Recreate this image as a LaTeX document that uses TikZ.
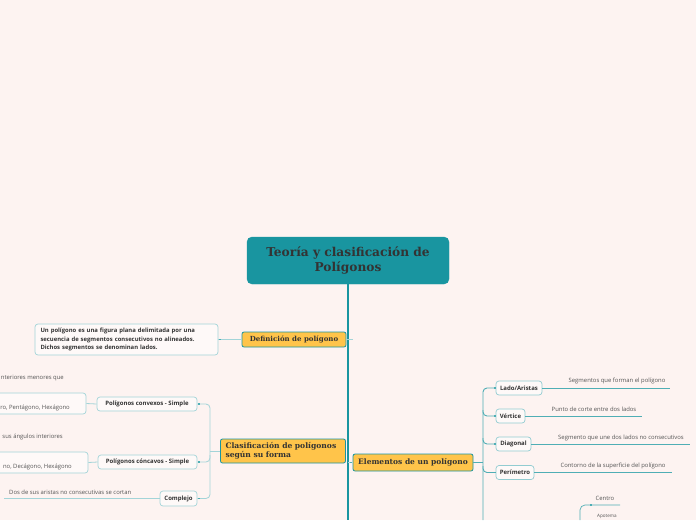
\documentclass[tikz,border=0pt]{standalone}
\usepackage{fontspec}
\setmainfont{Open Sans}
\newfontfamily\slab{DejaVu Serif}
\definecolor{bg}{HTML}{FDF3F1}
\definecolor{tealA}{HTML}{1995A0}
\definecolor{ylw}{HTML}{FFC44A}
\definecolor{lteal}{HTML}{A3D4D8}
\definecolor{mteal}{HTML}{4FAEB5}
\definecolor{txt}{HTML}{333333}
\definecolor{gtxt}{HTML}{555555}
\begin{document}
\begin{tikzpicture}[x=1pt,y=-1pt,
  mainbox/.style={draw=tealA, fill=tealA, rounded corners=5pt, minimum width=202pt, minimum height=47pt, align=center, font=\slab\bfseries\fontsize{12.2}{15}\selectfont, text=txt, inner sep=0pt},
  topic/.style={draw=tealA, fill=ylw, rounded corners=2pt, line width=0.8pt, font=\slab\bfseries\fontsize{7.2}{9}\selectfont, text=txt, inner sep=0pt, align=left},
  sub/.style={draw=lteal, fill=bg!50!white, rounded corners=3pt, line width=0.7pt, font=\bfseries\fontsize{6}{7}\selectfont, text=txt, inner sep=0pt},
  subr/.style={sub, draw=lteal!80!mteal},
  lbl/.style={font=\fontsize{5.9}{7}\selectfont, text=gtxt, inner sep=0pt},
  lline/.style={draw=lteal, line width=0.8pt},
  mline/.style={draw=mteal, line width=0.9pt},
  dot/.style={fill=mteal, minimum size=1.6pt, inner sep=0pt, draw=none, rectangle}
]
\fill[bg] (0,0) rectangle (696,520);
\useasboundingbox (0,0) rectangle (696,520);

% main
\node[mainbox] (main) at (348,260.5) {Teoría y clasificación de\\Polígonos};
\coordinate (trunkend) at (348,520);
\draw[tealA, line width=2pt] (main.south) -- (trunkend);

% definicion
\node[topic, minimum width=104pt, minimum height=15pt, align=center, font=\slab\bfseries\fontsize{7}{9}\selectfont] (def) at (294,339.5) {Definición de polígono};
\node[sub, text width=172pt, inner xsep=5.5pt, minimum height=31pt, align=left, font=\bfseries\fontsize{5.9}{8.6}\selectfont] (defbox) at (126.5,339.5)
 {Un polígono es una figura plana delimitada por una\\secuencia de segmentos consecutivos no alineados.\\Dichos segmentos se denominan lados.};
\draw[lline] (defbox.east) -- (def.west);
\node[dot] (d1) at (220,339.5) {};
\coordinate (defstub) at (353,339.5);
\draw[lline] (def.east) -- (defstub);

% clasificacion
\node[topic, minimum width=125pt, minimum height=24pt, text width=115pt, inner xsep=5pt, font=\slab\bfseries\fontsize{7.6}{9.5}\selectfont] (clas) at (283,451) {Clasificación de polígonos\\según su forma};
\node[sub, minimum width=100pt, minimum height=14pt] (conv) at (147,404) {Polígonos convexos - Simple};
\node[sub, minimum width=99pt, minimum height=14pt] (conc) at (147.5,462) {Polígonos cóncavos - Simple};
\node[sub, minimum width=37pt, minimum height=15pt] (comp) at (178.5,498.5) {Complejo};
\coordinate (cbr) at (210,451);
\draw[lline] (clas.west) -- (cbr);
\draw[lline, rounded corners=4pt] (conv.east) -- (210,404) -- (210,498.5) -- (comp.east);
\draw[lline, rounded corners=4pt] (conc.east) -- (210,462) -- (210,455);
\node[dot] at (199,404) {};
\node[dot] at (199,462) {};
\node[dot] at (199,498.5) {};

\node[sub, minimum width=106pt, minimum height=21pt] (convbox) at (33,403.5) {};
\node[sub, minimum width=108pt, minimum height=21pt] (concbox) at (34,462.5) {};
\draw[lline] (convbox.east) -- (conv.west);
\draw[lline] (concbox.east) -- (conc.west);
\node[lbl, anchor=east] (cvt1) at (64,378) {nteriores menores que};
\node[lbl, anchor=east] (cvt2) at (70,408) {ro, Pentágono, Hexágono};
\node[lbl, anchor=east] (cct1) at (63,437) {sus ángulos interiores};
\node[lbl, anchor=east] (cct2) at (72,467) {no, Decágono, Hexágono};
\node[lbl, anchor=west] (comptxt) at (9,492) {Dos de sus aristas no consecutivas se cortan};
\coordinate (compend) at (4,498.5);
\draw[lline] (compend) -- (comp.west);

% elementos
\node[topic, minimum width=120pt, minimum height=17pt, align=center, font=\slab\bfseries\fontsize{7.5}{9}\selectfont] (elem) at (413,462.5) {Elementos de un polígono};
\draw[lline] (348,462.5) -- (elem.west);
\node[dot] at (351,462.5) {};
\draw[mline] (elem.east) -- (483,462.5);

\node[subr, minimum width=46pt, minimum height=14pt] (lado) at (519,388) {Lado/Aristas};
\node[subr, minimum width=29pt, minimum height=14pt] (vert) at (510.5,416) {Vértice};
\node[subr, minimum width=35pt, minimum height=14pt] (diag) at (513.5,444) {Diagonal};
\node[subr, minimum width=38pt, minimum height=14pt] (perim) at (515,472.5) {Perímetro};
\coordinate (ebot) at (483,520);
\draw[mline, rounded corners=4pt] (lado.west) -- (483,388) -- (ebot);
\draw[mline, rounded corners=4pt] (vert.west) -- (483,416) -- (483,410);
\draw[mline, rounded corners=4pt] (diag.west) -- (483,444) -- (483,438);
\draw[mline, rounded corners=4pt] (perim.west) -- (483,472.5) -- (483,466);
\foreach \yy in {388,416,444,472.5} \node[dot] at (495,\yy) {};

\node[lbl] (t1) at (617,381) {Segmentos que forman el polígono};
\node[lbl] (t2) at (594,409) {Punto de corte entre dos lados};
\node[lbl] (t3) at (621,437.5) {Segmento que une dos lados no consecutivos};
\node[lbl] (t4) at (613,465.5) {Contorno de la superficie del polígono};
\coordinate (e1) at (670,388);
\coordinate (e2) at (642,416);
\coordinate (e3) at (690,444);
\coordinate (e4) at (672,472.5);
\draw[mline, line width=0.7pt] (lado.east) -- (e1);
\draw[mline, line width=0.7pt] (vert.east) -- (e2);
\draw[mline, line width=0.7pt] (diag.east) -- (e3);
\draw[mline, line width=0.7pt] (perim.east) -- (e4);

% centro
\coordinate (cb) at (580,520);
\coordinate (ce) at (620,505);
\draw[mline, line width=0.7pt, rounded corners=5pt] (cb) -- (580,505) -- (ce);
\node[dot] at (591,505) {};
\node[lbl] (centro) at (605,498) {Centro};
\node[lbl, font=\fontsize{4.6}{6}\selectfont] (apo) at (607,516.5) {Apotema};
\end{tikzpicture}
\end{document}
